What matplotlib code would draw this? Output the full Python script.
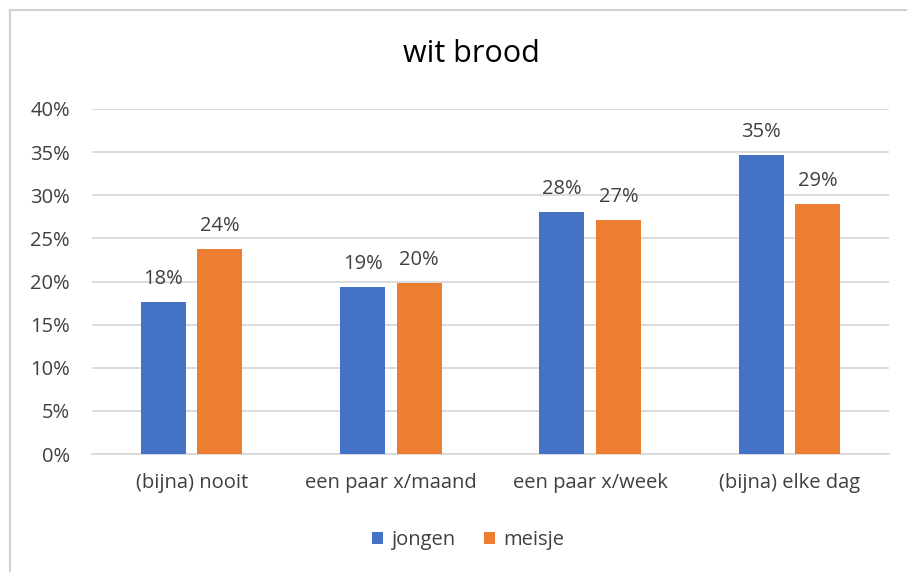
import matplotlib
matplotlib.use("Agg")
import matplotlib.pyplot as plt
from matplotlib.patches import Rectangle
import numpy as np

categories = ["(bijna) nooit", "een paar x/maand", "een paar x/week", "(bijna) elke dag"]
jongen = [17.6, 19.4, 28.1, 34.7]
meisje = [23.8, 19.8, 27.1, 29.0]
jongen_labels = ["18%", "19%", "28%", "35%"]
meisje_labels = ["24%", "20%", "27%", "29%"]
yticks = [0, 5, 10, 15, 20, 25, 30, 35, 40]
ytick_labels = ["0%", "5%", "10%", "15%", "20%", "25%", "30%", "35%", "40%"]
series_names = ["jongen", "meisje"]
title = "wit brood"

plt.rcParams['font.family'] = ['Open Sans', 'DejaVu Sans']

BLUE = "#4472C4"
ORANGE = "#ED7D31"
TXT = "#404040"
GRID = "#D9D9D9"
FS = 14.5

fig = plt.figure(figsize=(9.07, 5.72), dpi=100)
fig.patch.set_facecolor("white")
# chart border
fig.add_artist(Rectangle((10/907, -0.05), 1.2, 1 - 10/572 + 0.05, transform=fig.transFigure,
                         fill=False, edgecolor="#D0D0D0", lw=1.5))

ax = fig.add_axes([92/907, 1 - 454/572, (889 - 92)/907, (454 - 109)/572])
x = np.arange(len(categories))
w = 0.226
off = 0.142
b1 = ax.bar(x - off, jongen, w, color=BLUE, label=series_names[0], zorder=3)
b2 = ax.bar(x + off, meisje, w, color=ORANGE, label=series_names[1], zorder=3)

for bars, labels in ((b1, jongen_labels), (b2, meisje_labels)):
    for rect, lab in zip(bars, labels):
        ax.annotate(lab, (rect.get_x() + rect.get_width()/2, rect.get_height()),
                    xytext=(0, 13), textcoords="offset points", ha="center", va="baseline",
                    fontsize=FS, color=TXT)

ax.set_xlim(-0.5, len(categories) - 0.5)
ax.set_ylim(0, 40)
ax.set_yticks(yticks)
ax.set_yticklabels(ytick_labels, fontsize=FS, color=TXT)
ax.set_xticks(x)
ax.set_xticklabels(categories, fontsize=FS, color=TXT)
ax.tick_params(axis="both", length=0)
ax.tick_params(axis="y", pad=16)
ax.tick_params(axis="x", pad=14)
ax.yaxis.grid(True, color=GRID, lw=1.3, zorder=0)
for s in ["top", "right", "left"]:
    ax.spines[s].set_visible(False)
ax.spines["bottom"].set_color(GRID)
ax.spines["bottom"].set_linewidth(1.3)

fig.text(471/907, 1 - 54/572, title, ha="center", va="center", fontsize=22, color="black")

fig.legend(handles=[b1, b2], labels=series_names, loc="center", bbox_to_anchor=(468/907, 1 - 540/572),
           ncol=2, frameon=False, fontsize=FS, handlelength=0.55, handleheight=0.55,
           columnspacing=1.4, handletextpad=0.4, labelcolor=TXT)

fig.savefig("out.png", dpi=100, facecolor="white")
